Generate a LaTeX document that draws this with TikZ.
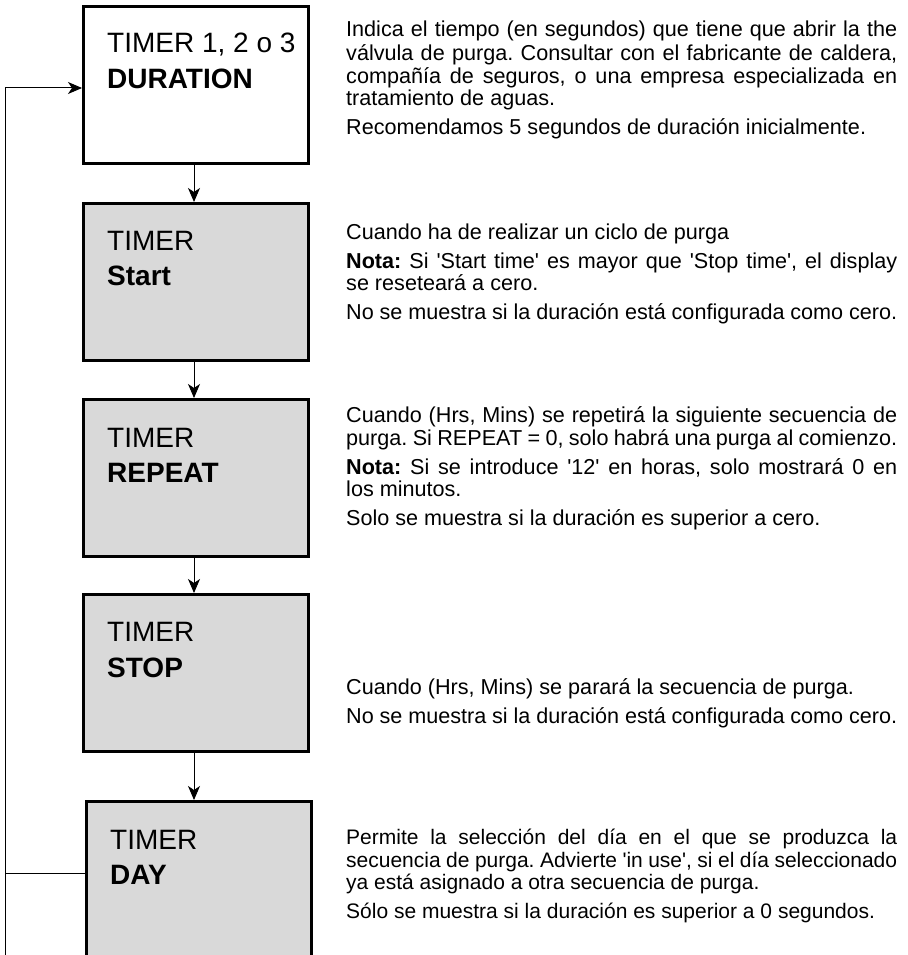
\documentclass[tikz,border=0pt]{standalone}
\usepackage{fontspec}
\setmainfont{Liberation Sans}
\usetikzlibrary{arrows.meta}
\definecolor{boxgray}{HTML}{D9D9D9}
\newcommand{\sq}{\textquotesingle}
% descriptions are justified without hyphenation
\hyphenpenalty=10000
\exhyphenpenalty=10000
\frenchspacing
\begin{document}
\begin{tikzpicture}[x=1pt,y=-1pt,
  stepbox/.style={draw=black,line width=2.6pt,minimum width=225pt,minimum height=157pt,
    inner sep=0pt,anchor=north west,fill=boxgray},
  boxlabel/.style={anchor=base west,inner sep=0pt,font=\fontsize{28}{34}\selectfont},
  note/.style={anchor=north west,inner sep=0pt,text width=551pt,align=justify,
    font=\fontsize{21.6}{22.5}\selectfont},
  smallnote/.style={note,font=\fontsize{21}{22.5}\selectfont},
  flow/.style={line width=1pt,-{Stealth[length=14pt,width=12pt,inset=4pt]}},
  loop/.style={line width=1pt}]
\useasboundingbox (0,0) rectangle (907,955);
\clip (0,0) rectangle (907,955);
\fill[white] (0,0) rectangle (907,955);

% program steps
\node[stepbox,fill=white] (dur) at (82,5) {};
\node[stepbox] (start) at (82,202) {};
\node[stepbox] (rep) at (82,398) {};
\node[stepbox] (stop) at (82,593) {};
\node[stepbox,minimum height=200pt] (day) at (85,800) {};

\node[boxlabel] (durA) at (107,53) {TIMER 1, 2 o 3};
\node[boxlabel] (durB) at (107,89) {\bfseries DURATION};
\node[boxlabel] (startA) at (107,250) {TIMER};
\node[boxlabel] (startB) at (107,285) {\bfseries Start};
\node[boxlabel] (repA) at (107,447) {TIMER};
\node[boxlabel] (repB) at (107,482) {\bfseries REPEAT};
\node[boxlabel] (stopA) at (107,641) {TIMER};
\node[boxlabel] (stopB) at (107,677) {\bfseries STOP};
\node[boxlabel] (dayA) at (110,849) {TIMER};
\node[boxlabel] (dayB) at (110,884) {\bfseries DAY};

% flow between steps
\coordinate (axis) at (194,0);
\draw[flow] (dur.south -| axis) -- (start.north -| axis);
\draw[flow] (start.south -| axis) -- (rep.north -| axis);
\draw[flow] (rep.south -| axis) -- (stop.north -| axis);
\draw[flow] (stop.south -| axis) -- (day.north -| axis);

% return path to the first step
\coordinate (ret) at (5,88);
\coordinate (dayret) at (5,873);
\coordinate (retbot) at (5,960);
\draw[loop] (dayret -| day.west) -- (dayret);
\draw[loop] (retbot) -- (ret);
\draw[flow] (ret) -- (ret -| dur.west);

% descriptions (node top = first baseline - strut height)
\node[note] (n1) at (346,21) {\strut Indica el tiempo (en segundos) que tiene que abrir la the válvula de purga. Consultar con el fabricante de caldera, compañía de seguros, o una empresa especializada en tratamiento de aguas.\par\vspace{6pt}
Recomendamos 5 segundos de duración inicialmente.};
\node[note] (n2) at (346,224) {\strut Cuando ha de realizar un ciclo de purga\par\vspace{6pt}
\textbf{Nota:} Si \sq Start time\sq{} es mayor que \sq Stop time\sq, el display\linebreak se reseteará a cero.\par\vspace{6pt}
No se muestra si la duración está configurada como cero.};
\node[note] (n3) at (346,406) {\strut Cuando (Hrs, Mins) se repetirá la siguiente secuencia de purga. Si REPEAT = 0, solo habrá una purga al comienzo.\par\vspace{6pt}
\textbf{Nota:} Si se introduce \sq 12\sq{} en horas, solo mostrará 0 en\linebreak los minutos.\par\vspace{6pt}
Solo se muestra si la duración es superior a cero.};
\node[note] (n4) at (346,678) {\strut Cuando (Hrs, Mins) se parará la secuencia de purga.\par\vspace{6pt}
No se muestra si la duración está configurada como cero.};
\node[smallnote] (n5) at (346,829) {\strut Permite la selección del día en el que se produzca la\linebreak secuencia de purga. Advierte \sq in use\sq, si el día seleccionado\linebreak ya está asignado a otra secuencia de purga.\par\vspace{6pt}
Sólo se muestra si la duración es superior a 0 segundos.};
\end{tikzpicture}
\end{document}
